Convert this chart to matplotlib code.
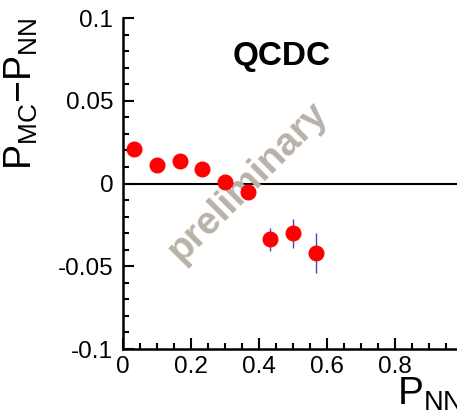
import numpy as np
import matplotlib
matplotlib.use("Agg")
import matplotlib.pyplot as plt
from matplotlib.ticker import MultipleLocator

plt.rcParams['font.family'] = ['Liberation Sans', 'DejaVu Sans']
plt.rcParams['mathtext.fontset'] = 'custom'
plt.rcParams['mathtext.rm'] = 'Liberation Sans'
plt.rcParams['mathtext.it'] = 'Liberation Sans'

# data
p_nn = [0.0333, 0.1, 0.1667, 0.2333, 0.3, 0.3667, 0.4333, 0.5, 0.5667]
diff = [0.0210, 0.0110, 0.0135, 0.0085, 0.0012, -0.0050, -0.0338, -0.0302, -0.0419]
err = [0.0015, 0.0015, 0.0015, 0.0015, 0.002, 0.003, 0.0072, 0.0088, 0.0120]

fig = plt.figure(figsize=(4.57, 4.15), dpi=100)
ax = fig.add_axes([0.269, 0.159, 0.744, 0.7976])

ax.axhline(0, color='black', lw=1.5, zorder=1)
ax.errorbar(p_nn, diff, yerr=err, fmt='o', color='red', ms=10.5,
            ecolor='#4646c8', elinewidth=1, capsize=0, zorder=4)

ax.text(0.468, 0.885, 'QCDC', transform=ax.transAxes, ha='center', va='center',
        fontsize=24, fontweight='bold')
ax.text(0.368, 0.505, 'preliminary', transform=ax.transAxes, ha='center',
        va='center', fontsize=28, fontweight='bold', color='#bab1a8',
        rotation=45, zorder=3)

ax.set_xlim(0, 1)
ax.set_ylim(-0.1, 0.1)
ax.xaxis.set_major_locator(MultipleLocator(0.2))
ax.xaxis.set_minor_locator(MultipleLocator(0.05))
ax.yaxis.set_major_locator(MultipleLocator(0.05))
ax.yaxis.set_minor_locator(MultipleLocator(0.01))
ax.set_xticks([0, 0.2, 0.4, 0.6, 0.8])
ax.set_xticklabels(['0', '0.2', '0.4', '0.6', '0.8'])
ax.set_yticks([-0.1, -0.05, 0, 0.05, 0.1])
ax.set_yticklabels(['-0.1', '-0.05', '0', '0.05', '0.1'])
ax.tick_params(which='both', direction='in', width=1.5, labelsize=17.5)
ax.tick_params(which='major', length=8)
ax.tick_params(which='minor', length=4)
ax.tick_params(axis='y', pad=7)
ax.tick_params(axis='x', pad=5)

for s in ['top', 'right']:
    ax.spines[s].set_visible(False)
for s in ['left', 'bottom']:
    ax.spines[s].set_linewidth(1.8)

ax.set_ylabel(r'$\mathregular{P_{MC}{-}P_{NN}}$', fontsize=27)
ax.yaxis.set_label_coords(-0.245, 1.0)
ax.yaxis.label.set_ha('right')
ax.set_xlabel(r'$\mathregular{P_{NN}}$', fontsize=28)
ax.xaxis.set_label_coords(1.0, -0.08)
ax.xaxis.label.set_ha('right')
ax.xaxis.label.set_va('top')

fig.savefig('out.png', dpi=100)
